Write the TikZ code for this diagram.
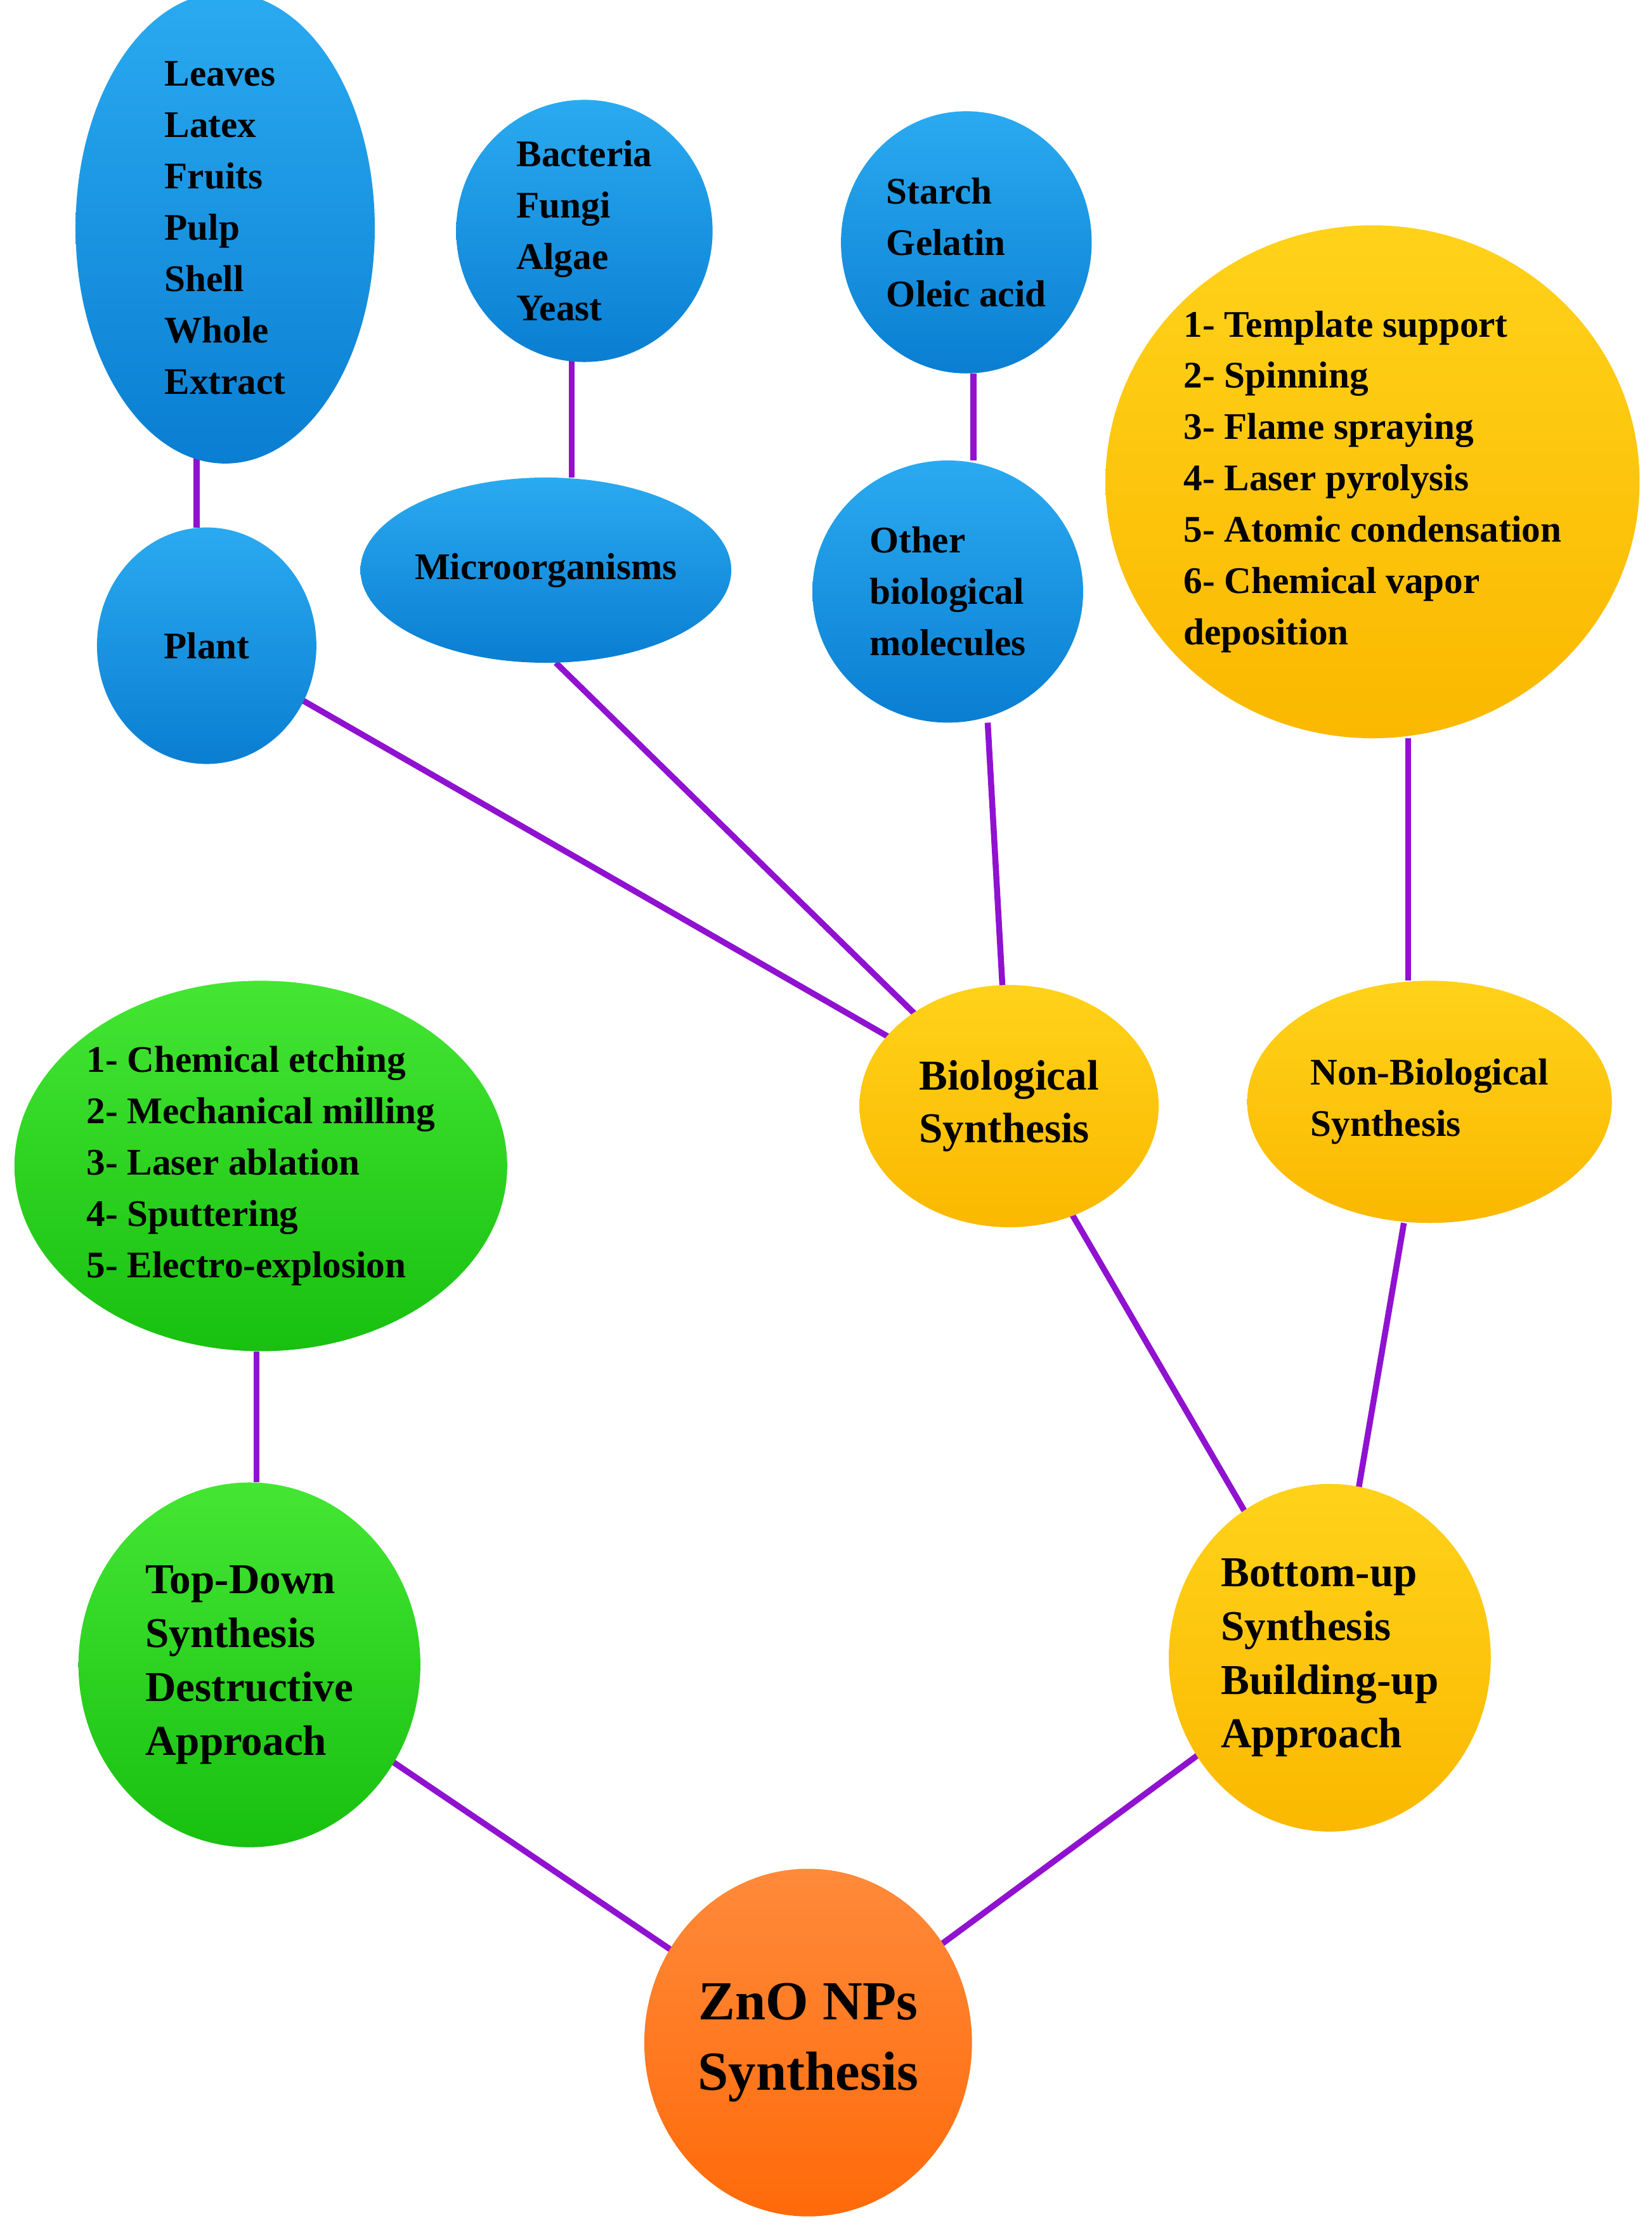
\documentclass[tikz,border=0pt]{standalone}
\usepackage{fontspec}
\setmainfont{Liberation Serif}
\usetikzlibrary{shapes.geometric}
\definecolor{bluea}{HTML}{2AAAF0}\definecolor{blueb}{HTML}{0A7ED2}
\definecolor{greena}{HTML}{44E633}\definecolor{greenb}{HTML}{18C010}
\definecolor{yella}{HTML}{FFD21A}\definecolor{yellb}{HTML}{FBB800}
\definecolor{orga}{HTML}{FF8A3A}\definecolor{orgb}{HTML}{FF6A0A}
\definecolor{link}{HTML}{9012D0}
\tikzset{
 e/.style n args={2}{ellipse,inner sep=0pt,minimum width=#1*0.04cm,minimum height=#2*0.04cm,align=left,font=\bfseries\fontsize{15}{20.5}\selectfont},
 blue/.style={top color=bluea,bottom color=blueb,draw=none},
 green/.style={top color=greena,bottom color=greenb,draw=none},
 yel/.style={top color=yella,bottom color=yellb,draw=none},
 org/.style={top color=orga,bottom color=orgb,draw=none},
 ln/.style={draw=link,line width=2.4pt}
}
\begin{document}
\begin{tikzpicture}[x=0.02cm,y=-0.02cm]
\useasboundingbox (0,0) rectangle (1159,1568);
\path[ln] (138,305) -- (138,370);
\path[ln] (401,250) -- (401,335);
\path[ln] (683,262) -- (683,323);
\path[ln] (988,518) -- (988,688);
\path[ln] (180,948) -- (180,1040);
\path[ln] (210,490) -- (708,776);
\path[ln] (390,465) -- (708,776);
\path[ln] (693,507) -- (708,776);
\path[ln] (708,776) -- (933,1163);
\path[ln] (985,858) -- (933,1163);
\path[ln] (175,1168) -- (567,1433);
\path[ln] (933,1163) -- (567,1433);
\node[e={105}{145},blue] (leaves) at (158,160) {Leaves\\Latex\\Fruits\\Pulp\\Shell\\Whole\\Extract};
\node[e={90}{92},blue] (bact) at (410,162) {Bacteria\\Fungi\\Algae\\Yeast};
\node[e={88}{92},blue] (starch) at (678,170) {Starch\\Gelatin\\Oleic acid};
\node[e={175}{180},yel] (tmpl) at (963,338) {1- Template support\\2- Spinning\\3- Flame spraying\\4- Laser pyrolysis\\5- Atomic condensation\\6- Chemical vapor\\deposition};
\node[e={77}{83},blue] (plant) at (145,453) {Plant};
\node[e={115}{65},blue] (micro) at (383,400) {Microorganisms};
\node[e={95}{92},blue] (other) at (665,415) {Other\\biological\\molecules};
\node[e={105}{85},yel,font=\bfseries\fontsize{17}{21}\selectfont] (bio) at (708,776) {Biological\\Synthesis};
\node[e={128}{85},yel] (nonbio) at (1003,773) {Non-Biological\\Synthesis};
\node[e={165}{130},green] (chem) at (183,818) {1- Chemical etching\\2- Mechanical milling\\3- Laser ablation\\4- Sputtering\\5- Electro-explosion};
\node[e={120}{128},green,font=\bfseries\fontsize{17}{21.5}\selectfont] (top) at (175,1168) {Top-Down\\Synthesis\\Destructive\\Approach};
\node[e={113}{122},yel,font=\bfseries\fontsize{17}{21.5}\selectfont] (bot) at (933,1163) {Bottom-up\\Synthesis\\Building-up\\Approach};
\node[e={115}{122},org,align=center,font=\bfseries\fontsize{22}{28}\selectfont] (zno) at (567,1433) {ZnO NPs\\Synthesis};
\end{tikzpicture}
\end{document}
